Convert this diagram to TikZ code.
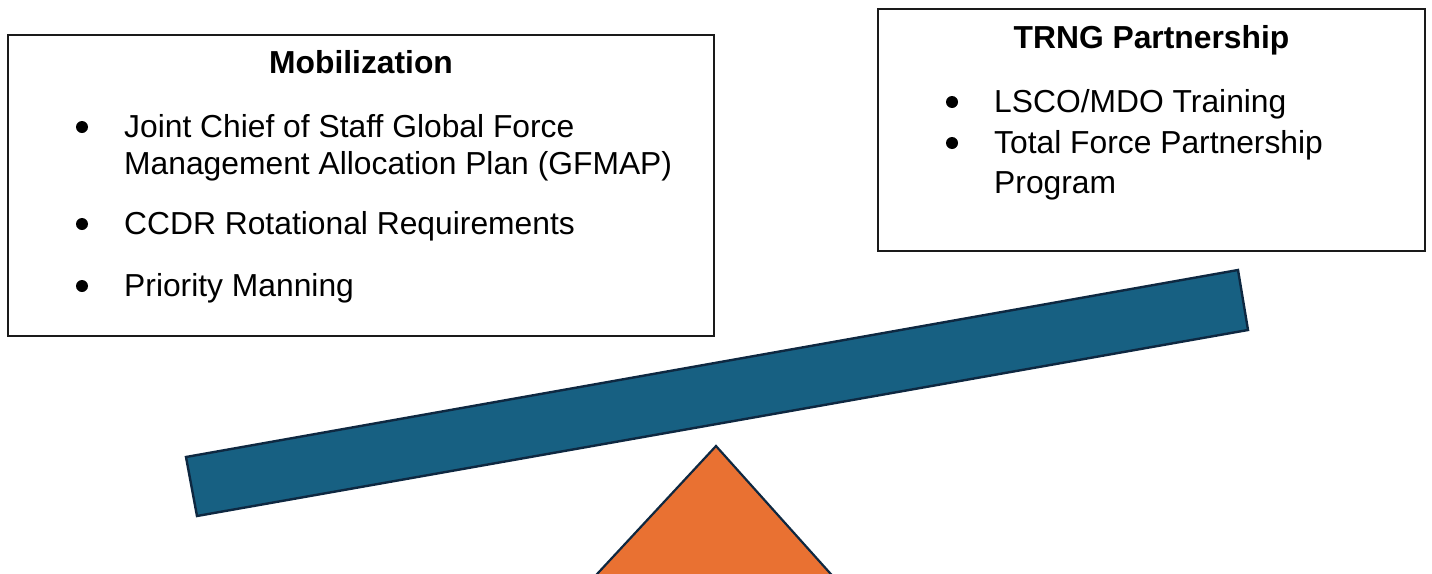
\documentclass[tikz,border=0pt]{standalone}
\usepackage{fontspec}
\setmainfont{Liberation Sans}
\definecolor{beamblue}{HTML}{176082}
\definecolor{fulcrum}{HTML}{E97132}
\definecolor{edgedark}{HTML}{0E2841}
\definecolor{boxedge}{HTML}{1A1A1A}
\tikzset{
  infobox/.style={draw=boxedge, line width=1.6pt, fill=white},
  txt/.style={anchor=base west, inner sep=0pt, font=\fontsize{31.8}{38}\selectfont},
  head/.style={anchor=base, inner sep=0pt, font=\fontsize{31.8}{38}\selectfont\bfseries},
  bul/.style={fill=black, circle, inner sep=0pt, minimum size=12pt},
  beam/.style={fill=beamblue, draw=edgedark, line width=2.4pt, line join=miter},
  tri/.style={fill=fulcrum, draw=edgedark, line width=2.2pt}
}
\begin{document}
\begin{tikzpicture}[x=1pt, y=-1pt]
\useasboundingbox (0,0) rectangle (1432,573);
\begin{scope}
\clip (0,0) rectangle (1432,573);
% boxes
\draw[infobox] (8,35) rectangle (714,336);
\draw[infobox] (878,9) rectangle (1425,251);
% headings
\node[head] (mobh) at (361,73) {Mobilization};
\node[head] (trngh) at (1151.5,48) {TRNG Partnership};
% left list
\node[bul] (b1) at (82,127) {};
\node[txt] (l1) at (124,137) {Joint Chief of Staff Global Force};
\node[txt] (l2) at (124,174) {Management Allocation Plan (GFMAP)};
\node[bul] (b2) at (82,224) {};
\node[txt] (l3) at (124,234) {CCDR Rotational Requirements};
\node[bul] (b3) at (82,286) {};
\node[txt] (l4) at (124,296) {Priority Manning};
% right list
\node[bul] (b4) at (952,102) {};
\node[txt] (r1) at (994,112) {LSCO/MDO Training};
\node[bul] (b5) at (952,143) {};
\node[txt] (r2) at (994,153) {Total Force Partnership};
\node[txt] (r3) at (994,193) {Program};
% beam
\draw[beam] (186,457) -- (1238,270) -- (1248,330) -- (197,516) -- cycle;
% fulcrum
\draw[tri] (716,446) -- (855,601) -- (572,601) -- cycle;
\end{scope}
\end{tikzpicture}
\end{document}
